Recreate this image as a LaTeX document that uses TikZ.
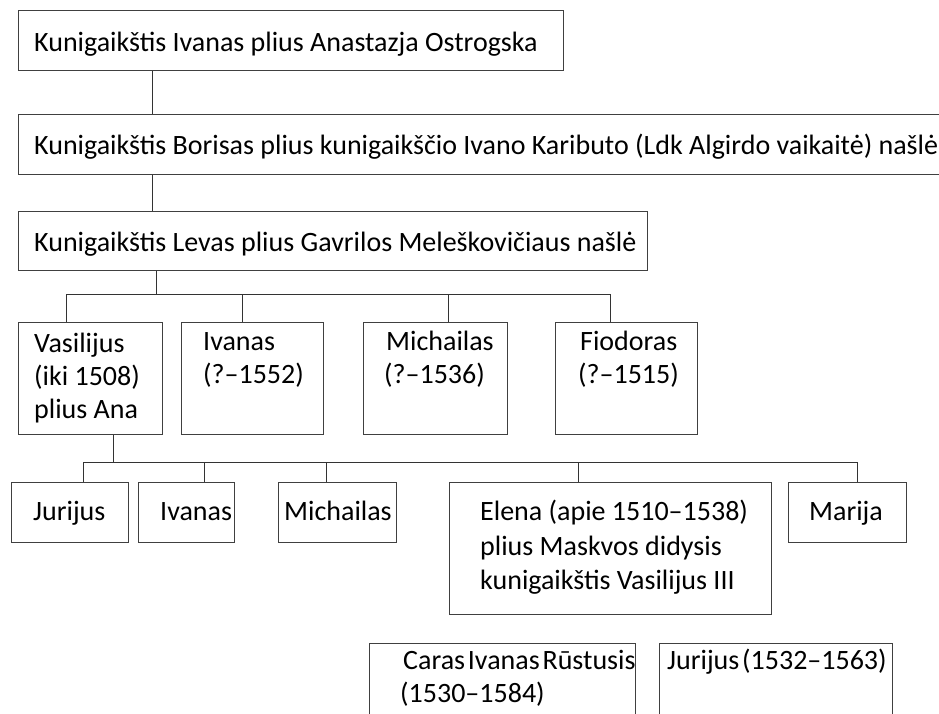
\documentclass[tikz,border=0pt]{standalone}
\usepackage{fontspec}
\setmainfont{Carlito}
\newfontfamily\narrowspfont[WordSpace=0.45]{Carlito}
\begin{document}
\begin{tikzpicture}[x=1pt,y=-1pt,
  box/.style={draw=black!75,line width=0.8pt,inner sep=0pt,anchor=north west},
  txt/.style={inner sep=0pt,anchor=base west,font=\fontsize{28}{34}\selectfont},
  txtn/.style={txt,font=\narrowspfont\fontsize{28}{34}\selectfont},
  conn/.style={draw=black!80,line width=0.8pt}]
\useasboundingbox (0,0) rectangle (939,713);
% generation 1-3
\node[box,minimum width=545pt,minimum height=60pt] (b1) at (18,10) {};
\node[box,minimum width=940pt,minimum height=60pt] (b2) at (18,114) {};
\node[box,minimum width=629pt,minimum height=59pt] (b3) at (18,211) {};
\node[txt] (t1) at (34,51) {Kunigaikštis Ivanas plius Anastazja Ostrogska};
\node[txt] (t2) at (34,154) {Kunigaikštis Borisas plius kunigaikščio Ivano Kaributo (Ldk Algirdo vaikaitė) našlė};
\node[txt] (t3) at (34,251) {Kunigaikštis Levas plius Gavrilos Meleškovičiaus našlė};
% generation 4
\node[box,minimum width=144pt,minimum height=112pt] (vas) at (18,322) {};
\node[box,minimum width=142pt,minimum height=112pt] (iv) at (181,322) {};
\node[box,minimum width=144pt,minimum height=112pt] (mi) at (363,322) {};
\node[box,minimum width=142pt,minimum height=112pt] (fi) at (555,322) {};
\node[txt] (tv1) at (34,352) {Vasilijus};
\node[txt] (tv2) at (34,385) {(iki 1508)};
\node[txt] (tv3) at (34,418) {plius Ana};
\node[txt] (ti1) at (203,350) {Ivanas};
\node[txt] (ti2) at (203,383) {(?–1552)};
\node[txt] (tm1) at (386,350) {Michailas};
\node[txt] (tm2) at (384,383) {(?–1536)};
\node[txt] (tf1) at (580,350) {Fiodoras};
\node[txt] (tf2) at (578,383) {(?–1515)};
% generation 5
\node[box,minimum width=117pt,minimum height=60pt] (ju) at (11,482) {};
\node[box,minimum width=96pt,minimum height=60pt] (iv2) at (138,482) {};
\node[box,minimum width=118pt,minimum height=60pt] (mi2) at (278,482) {};
\node[box,minimum width=322pt,minimum height=132pt] (el) at (449,482) {};
\node[box,minimum width=118pt,minimum height=60pt] (ma) at (788,482) {};
\node[txt] (tju) at (33,520) {Jurijus};
\node[txt] (tiv2) at (160,520) {Ivanas};
\node[txt] (tmi2) at (284,520) {Michailas};
\node[txt] (tel1) at (480,520) {Elena (apie 1510–1538)};
\node[txt] (tel2) at (480,555) {plius Maskvos didysis};
\node[txt] (tel3) at (480,589) {kunigaikštis Vasilijus III};
\node[txt] (tma) at (809,520) {Marija};
% generation 6
\node[box,minimum width=266pt,minimum height=100pt] (ca) at (369,643) {};
\node[box,minimum width=233pt,minimum height=100pt] (ju2) at (659,643) {};
\node[txtn] (tca1) at (403,669) {Caras Ivanas Rūstusis};
\node[txtn] (tca2) at (400,702) {(1530–1584)};
\node[txtn] (tju2) at (667,669) {Jurijus (1532–1563)};
% connectors
\coordinate (c1) at (152,0);
\draw[conn] (b1.south -| c1) -- (b2.north -| c1);
\draw[conn] (b2.south -| c1) -- (b3.north -| c1);
\coordinate (j1) at (156,294);
\coordinate (d1) at (66,294);
\coordinate (d2) at (242,294);
\coordinate (d3) at (448,294);
\coordinate (d4) at (610,294);
\draw[conn] (b3.south -| j1) -- (j1);
\draw[conn] (d1) -- (d4);
\draw[conn] (d1) -- (d1 |- vas.north);
\draw[conn] (d2) -- (d2 |- iv.north);
\draw[conn] (d3) -- (d3 |- mi.north);
\draw[conn] (d4) -- (d4 |- fi.north);
\coordinate (j2) at (113,462);
\coordinate (e1) at (83,462);
\coordinate (e2) at (204,462);
\coordinate (e3) at (326,462);
\coordinate (e4) at (578,462);
\coordinate (e5) at (857,462);
\draw[conn] (vas.south -| j2) -- (j2);
\draw[conn] (e1) -- (e5);
\draw[conn] (e1) -- (e1 |- ju.north);
\draw[conn] (e2) -- (e2 |- iv2.north);
\draw[conn] (e3) -- (e3 |- mi2.north);
\draw[conn] (e4) -- (e4 |- el.north);
\draw[conn] (e5) -- (e5 |- ma.north);
\end{tikzpicture}
\end{document}
